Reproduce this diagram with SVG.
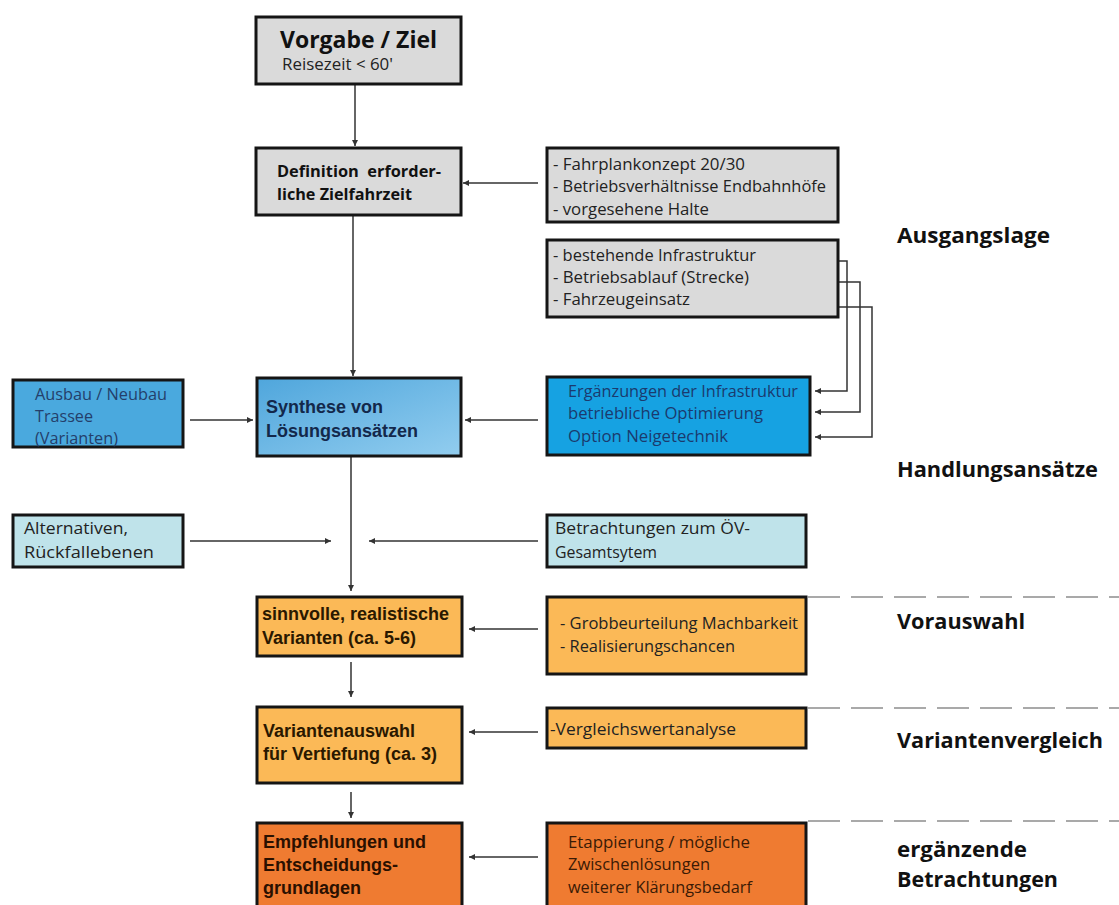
<svg xmlns="http://www.w3.org/2000/svg" width="1119" height="905" viewBox="0 0 1119 905">
<defs>
<linearGradient id="gSyn" x1="0" y1="0" x2="1" y2="1">
<stop offset="0" stop-color="#4fa6dc"/>
<stop offset="1" stop-color="#92cdef"/>
</linearGradient>
<marker id="ah" viewBox="0 0 10 10" refX="10" refY="5" markerUnits="userSpaceOnUse" markerWidth="7" markerHeight="6" orient="auto">
<path d="M0,0 L10,5 L0,10 z" fill="#333"/>
</marker>
</defs>
<style>
.box{stroke:#151515;stroke-width:3}
.gray{fill:#dadada}
.blue{fill:#16a2e2}
.blue2{fill:#4aa9de}
.teal{fill:#bfe3ea}
.orange{fill:#fbb957}
.dorange{fill:#ef7b31}
.m{font-family:"Open Sans","Noto Sans",sans-serif;font-size:15.5px;fill:#222}
.mb{font-family:"Open Sans","Noto Sans",sans-serif;font-weight:bold;fill:#111}
.ab{font-family:"Liberation Sans",Arial,sans-serif;font-weight:bold;font-size:18px}
.lab{font-family:"Open Sans","Noto Sans",sans-serif;font-weight:bold;font-size:21px;fill:#111}
.c{fill:none;stroke:#333;stroke-width:1.5}
.d{fill:none;stroke:#555;stroke-width:1.2;stroke-dasharray:32 11}
</style>
<rect width="1119" height="905" fill="#ffffff"/>

<g id="connectors">
<path class="c" d="M355,84 V146" marker-end="url(#ah)"/>
<path class="c" d="M538,183 H463" marker-end="url(#ah)"/>
<path class="c" d="M353,215 V376" marker-end="url(#ah)"/>
<path class="c" d="M190,420 H253" marker-end="url(#ah)"/>
<path class="c" d="M538,420 H465" marker-end="url(#ah)"/>
<path class="c" d="M777,261 H847 V391 H815" marker-end="url(#ah)"/>
<path class="c" d="M777,282 H860 V412 H815" marker-end="url(#ah)"/>
<path class="c" d="M777,307 H872 V437 H815" marker-end="url(#ah)"/>
<path class="c" d="M351,456 V591" marker-end="url(#ah)"/>
<path class="c" d="M190,541 H331" marker-end="url(#ah)"/>
<path class="c" d="M538,541 H369" marker-end="url(#ah)"/>
<path class="c" d="M538,629 H469" marker-end="url(#ah)"/>
<path class="c" d="M351,662 V697" marker-end="url(#ah)"/>
<path class="c" d="M538,732 H469" marker-end="url(#ah)"/>
<path class="c" d="M351,792 V818" marker-end="url(#ah)"/>
<path class="c" d="M538,857 H469" marker-end="url(#ah)"/>
<path class="d" d="M808,597 H1119"/>
<path class="d" d="M808,708 H1119"/>
<path class="d" d="M808,821 H1119"/>
</g>

<g id="vorgabe">
<rect class="box gray" x="256" y="17" width="205" height="67"/>
<text class="mb" x="280" y="48" font-size="24" textLength="157" lengthAdjust="spacingAndGlyphs">Vorgabe / Ziel</text>
<text class="m" x="282" y="70" textLength="111" lengthAdjust="spacingAndGlyphs">Reisezeit &lt; 60'</text>
</g>

<g id="definition">
<rect class="box gray" x="256" y="148" width="205" height="67"/>
<text class="mb" x="277" y="177" font-size="16" textLength="164" lengthAdjust="spacingAndGlyphs">Definition&#160; erforder-</text>
<text class="mb" x="277" y="200" font-size="16" textLength="135" lengthAdjust="spacingAndGlyphs">liche Zielfahrzeit</text>
</g>

<g id="vorgaben-fahrplan">
<rect class="box gray" x="547" y="148" width="291" height="74"/>
<text class="m" x="553" y="170" textLength="192" lengthAdjust="spacingAndGlyphs">- Fahrplankonzept 20/30</text>
<text class="m" x="553" y="192" textLength="273" lengthAdjust="spacingAndGlyphs">- Betriebsverhältnisse Endbahnhöfe</text>
<text class="m" x="553" y="215" textLength="156" lengthAdjust="spacingAndGlyphs">- vorgesehene Halte</text>
</g>

<g id="bestand">
<rect class="box gray" x="547" y="240" width="291" height="77"/>
<text class="m" x="553" y="261" textLength="203" lengthAdjust="spacingAndGlyphs">- bestehende Infrastruktur</text>
<text class="m" x="553" y="283" textLength="196" lengthAdjust="spacingAndGlyphs">- Betriebsablauf (Strecke)</text>
<text class="m" x="553" y="305" textLength="137" lengthAdjust="spacingAndGlyphs">- Fahrzeugeinsatz</text>
</g>

<g id="ausbau">
<rect class="box blue2" x="13" y="380" width="170" height="67"/>
<text class="m" x="35" y="400" style="fill:#243f6b" textLength="132" lengthAdjust="spacingAndGlyphs">Ausbau / Neubau</text>
<text class="m" x="35" y="422" style="fill:#243f6b" textLength="58" lengthAdjust="spacingAndGlyphs">Trassee</text>
<text class="m" x="35" y="444" style="fill:#243f6b" textLength="83" lengthAdjust="spacingAndGlyphs">(Varianten)</text>
</g>

<g id="synthese">
<rect class="box" fill="url(#gSyn)" x="257" y="378" width="204" height="78"/>
<text class="ab" x="266" y="413" fill="#13284b">Synthese von</text>
<text class="ab" x="266" y="437" fill="#13284b">Lösungsansätzen</text>
</g>

<g id="massnahmen">
<rect class="box blue" x="547" y="377" width="263" height="78"/>
<text class="m" x="568" y="397" style="fill:#1b3a6e" textLength="230" lengthAdjust="spacingAndGlyphs">Ergänzungen der Infrastruktur</text>
<text class="m" x="568" y="419" style="fill:#1b3a6e" textLength="195" lengthAdjust="spacingAndGlyphs">betriebliche Optimierung</text>
<text class="m" x="568" y="442" style="fill:#1b3a6e" textLength="160" lengthAdjust="spacingAndGlyphs">Option Neigetechnik</text>
</g>

<g id="alternativen">
<rect class="box teal" x="13" y="515" width="170" height="52"/>
<text class="m" x="24" y="534" textLength="104" lengthAdjust="spacingAndGlyphs">Alternativen,</text>
<text class="m" x="24" y="558" textLength="130" lengthAdjust="spacingAndGlyphs">Rückfallebenen</text>
</g>

<g id="oev">
<rect class="box teal" x="547" y="515" width="259" height="52"/>
<text class="m" x="555" y="534" textLength="195" lengthAdjust="spacingAndGlyphs">Betrachtungen zum ÖV-</text>
<text class="m" x="555" y="558" textLength="102" lengthAdjust="spacingAndGlyphs">Gesamtsytem</text>
</g>

<g id="sinnvolle">
<rect class="box orange" x="257" y="597" width="205" height="59"/>
<text class="ab" x="262" y="620" fill="#2a1800">sinnvolle, realistische</text>
<text class="ab" x="262" y="644" fill="#2a1800">Varianten (ca. 5-6)</text>
</g>

<g id="grobbeurteilung">
<rect class="box orange" x="547" y="597" width="259" height="77"/>
<text class="m" x="560" y="629" textLength="238" lengthAdjust="spacingAndGlyphs">- Grobbeurteilung Machbarkeit</text>
<text class="m" x="560" y="652" textLength="175" lengthAdjust="spacingAndGlyphs">- Realisierungschancen</text>
</g>

<g id="variantenauswahl">
<rect class="box orange" x="257" y="707" width="205" height="76"/>
<text class="ab" x="263" y="737" fill="#2a1800">Variantenauswahl</text>
<text class="ab" x="263" y="760" fill="#2a1800">für Vertiefung (ca. 3)</text>
</g>

<g id="vergleichswert">
<rect class="box orange" x="547" y="708" width="259" height="40"/>
<text class="m" x="550" y="735" textLength="186" lengthAdjust="spacingAndGlyphs">-Vergleichswertanalyse</text>
</g>

<g id="empfehlungen">
<rect class="box dorange" x="257" y="823" width="205" height="84"/>
<text class="ab" x="263" y="848" fill="#2a1000">Empfehlungen und</text>
<text class="ab" x="263" y="871" fill="#2a1000">Entscheidungs-</text>
<text class="ab" x="263" y="894" fill="#2a1000">grundlagen</text>
</g>

<g id="etappierung">
<rect class="box dorange" x="547" y="823" width="259" height="84"/>
<text class="m" x="568" y="848" style="fill:#3a1a05" textLength="182" lengthAdjust="spacingAndGlyphs">Etappierung / mögliche</text>
<text class="m" x="568" y="870" style="fill:#3a1a05" textLength="142" lengthAdjust="spacingAndGlyphs">Zwischenlösungen</text>
<text class="m" x="568" y="893" style="fill:#3a1a05" textLength="184" lengthAdjust="spacingAndGlyphs">weiterer Klärungsbedarf</text>
</g>

<g id="labels">
<text class="lab" x="897" y="243" textLength="153" lengthAdjust="spacingAndGlyphs">Ausgangslage</text>
<text class="lab" x="897" y="477" textLength="201" lengthAdjust="spacingAndGlyphs">Handlungsansätze</text>
<text class="lab" x="897" y="629" textLength="128" lengthAdjust="spacingAndGlyphs">Vorauswahl</text>
<text class="lab" x="897" y="748" textLength="206" lengthAdjust="spacingAndGlyphs">Variantenvergleich</text>
<text class="lab" x="897" y="857" textLength="130" lengthAdjust="spacingAndGlyphs">ergänzende</text>
<text class="lab" x="897" y="887" textLength="161" lengthAdjust="spacingAndGlyphs">Betrachtungen</text>
</g>
</svg>
